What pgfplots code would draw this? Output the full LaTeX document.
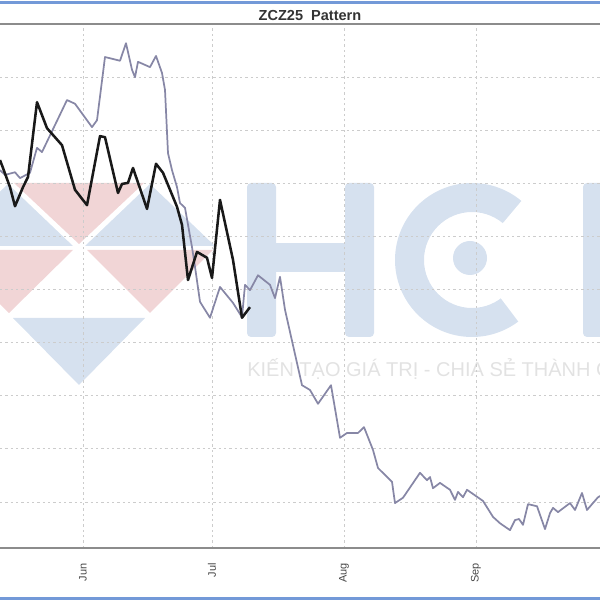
\documentclass[border=0pt]{standalone}
\usepackage{pgfplots}
\pgfplotsset{compat=1.18}
\usepackage{fontspec}
\setmainfont{Liberation Sans}
\definecolor{wmblue}{HTML}{D6E1EF}
\definecolor{wmpink}{HTML}{F1D5D6}
\definecolor{wmtext}{HTML}{E2E2E2}
\definecolor{patgray}{HTML}{8787A6}
\definecolor{frame}{HTML}{7399D8}
\begin{document}
\begin{tikzpicture}
\path[use as bounding box] (0,-39pt) rectangle (450pt,411pt);
% watermark and frame, in pixel units of the picture (y downwards)
\begin{scope}[shift={(0,411pt)}, x=0.75pt, y=-0.75pt]
  \fill[frame] (0,1.5) rectangle (600,4.5);
  \fill[frame] (0,596.5) rectangle (600,600);
  % logo triangles
  \fill[wmblue] (8,184) -- (73,246) -- (-57,246) -- cycle;
  \fill[wmpink] (14,183) -- (144,183) -- (79,244) -- cycle;
  \fill[wmblue] (150,184) -- (215,246) -- (85,246) -- cycle;
  \fill[wmpink] (-55,250) -- (73,250) -- (9,313) -- cycle;
  \fill[wmpink] (87,250) -- (213,250) -- (150,313) -- cycle;
  \fill[wmblue] (13,318) -- (145,318) -- (79,385) -- cycle;
  % H
  \fill[wmblue, rounded corners=3] (247,183) rectangle (276,337);
  \fill[wmblue, rounded corners=3] (345,183) rectangle (374,337);
  \fill[wmblue] (275,243) rectangle (346,272);
  % C
  \fill[wmblue, even odd rule] (472,260) circle[radius=77] (472,260) circle[radius=48];
  \fill[white] (472,260) -- (542.7,175.7) -- (578,175) -- (578,350) -- (538.2,347.8) -- cycle;
  \fill[wmblue] (470,258) circle[radius=17];
  % T
  \fill[wmblue, rounded corners=3] (583,183) rectangle (606,337);
  \node[anchor=base west, inner sep=0, text=wmtext, font=\fontsize{15}{15}\selectfont]
    at (247,377) {KIẾN TẠO GIÁ TRỊ - CHIA SẺ THÀNH CÔNG};
  \node[anchor=base, inner sep=0, text=black!80, font=\bfseries\fontsize{10.9}{12}\selectfont]
    at (310,20.5) {ZCZ25\ \ Pattern};
\end{scope}

\begin{axis}[
  at={(0,0)}, anchor=south west,
  width=450pt, height=393pt, scale only axis,
  xmin=0, xmax=600, ymin=391.34, ymax=490.02,
  axis line style={draw=none},
  xtick={83,212,344,476,603},
  xticklabels={Jun,Jul,Aug,Sep,Oct},
  ytick={400,410,...,480},
  yticklabels={},
  major tick length=0pt,
  xmajorgrids, ymajorgrids,
  grid style={color=black!20, line width=0.75pt, dash pattern=on 1.8pt off 2.2pt},
  xticklabel style={rotate=90, anchor=east, font=\fontsize{8.2}{9}\selectfont, text=black!72},
  xticklabel shift=8pt,
]
\addplot[patgray, line width=1.3pt, line join=round] coordinates {
(0,462.5) (5,461.6) (15,462.1) (20,461.0) (30,462.0) (37,466.7) (42,465.9) (67,475.7)
(75,475.0) (92,470.6) (97,471.9) (105,483.8) (120,483.1) (126,486.4) (132,481.4) (135,480.0)
(138,482.9) (150,481.9) (156,484.0) (162,480.8) (165,477.6) (168,465.7) (172,462.5) (177,459.3)
(180,456.3) (185,455.4) (192,448.0) (195,444.3) (200,437.7) (210,434.7) (220,440.5) (233,437.5)
(242,434.8) (245,440.9) (250,439.9) (258,442.7) (270,440.9) (275,438.4) (280,442.4) (285,436.2)
(302,422.0) (310,421.1) (318,418.5) (331,422.0) (340,412.1) (347,413.0) (358,413.0) (364,414.1)
(373,409.8) (378,406.4) (392,403.8) (395,399.8) (403,400.8) (420,405.5) (427,404.1) (430,404.7)
(433,402.6) (440,403.6) (450,402.3) (455,400.4) (458,401.9) (463,400.9) (467,402.3) (483,400.2)
(493,397.2) (500,396.0) (510,394.7) (515,396.6) (519,396.8) (523,395.7) (528,399.6) (537,399.2)
(545,394.9) (550,397.9) (553,398.9) (558,398.1) (570,399.8) (575,398.5) (582,401.7) (587,398.5)
(598,400.9) (602,401.3)
};
\addplot[black!90, line width=1.9pt, line join=round] coordinates {
(0,464.4) (3,462.9) (10,459.3) (15,455.7) (23,459.3) (28,461.2) (37,475.3) (47,470.4)
(62,467.2) (75,458.8) (87,455.9) (100,468.9) (105,468.7) (118,458.2) (122,459.9) (128,460.1)
(133,462.9) (147,455.2) (156,463.7) (163,462.0) (177,455.6) (182,452.2) (188,441.8) (197,447.1)
(207,446.0) (212,442.2) (220,456.9) (233,445.6) (242,434.7) (250,436.7)
};
\end{axis}

\begin{scope}[shift={(0,411pt)}, x=0.75pt, y=-0.75pt]
  \draw[black!45, line width=1.5pt] (0,24) -- (600,24);
  \draw[black!45, line width=1.5pt] (0,548) -- (600,548);
\end{scope}
\end{tikzpicture}
\end{document}
